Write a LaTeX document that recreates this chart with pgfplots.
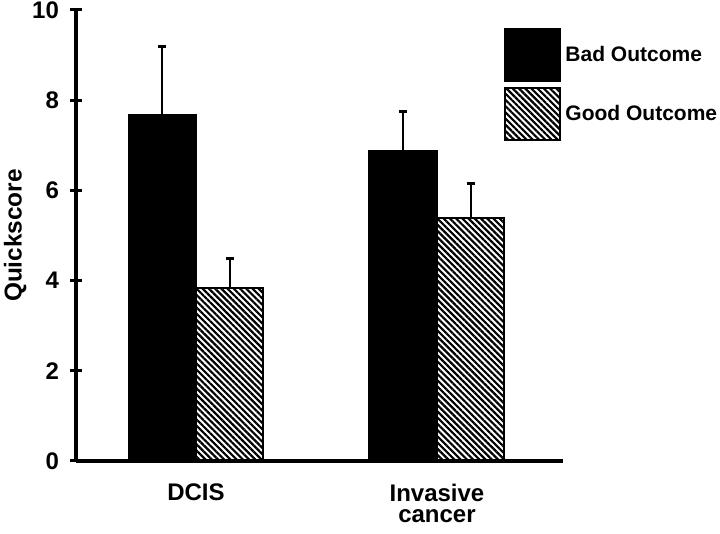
\documentclass[border=0pt]{standalone}
\usepackage{fontspec}
\setmainfont{Liberation Sans}
\usepackage{pgfplots}
\pgfplotsset{compat=1.18}
\usetikzlibrary{patterns.meta}
\begin{document}
\begin{tikzpicture}
\useasboundingbox (-38pt,-36.5pt) rectangle (322pt,230.5pt);
\begin{axis}[
  at={(0pt,0pt)}, anchor=south west,
  scale only axis, width=243.5pt, height=225.5pt,
  xmin=-0.498, xmax=1.523, ymin=0, ymax=10,
  ybar=0pt, bar width=0.28,
  axis x line*=bottom, axis y line*=left,
  axis line style={line width=2pt},
  ytick={0,2,4,6,8,10},
  xtick={0,1}, xticklabels={DCIS,{Invasive\\cancer}},
  xtick style={draw=none},
  major tick length=6pt, tick align=center,
  ytick style={line width=1.5pt, black},
  /pgf/number format/assume math mode=true,
  yticklabel style={font=\bfseries\fontsize{12}{13}\selectfont, xshift=-2pt},
  xticklabel style={font=\bfseries\fontsize{12}{10.5}\selectfont, align=center, anchor=north, yshift=-5pt},
  ylabel={Quickscore},
  ylabel style={font=\bfseries\fontsize{12.2}{13}\selectfont, at={(axis description cs:-0.125,0.5)}, anchor=center},
  legend style={at={(rel axis cs:0.879,0.96)}, anchor=north west, draw=none, fill=none,
    inner sep=0pt, row sep=2.5pt, font=\bfseries\fontsize{10.5}{12}\selectfont,
    legend cell align=left},
  legend image code/.code={\draw[#1,line width=1pt] (0pt,-13pt) rectangle (27.5pt,13pt);},
  error bars/y dir=plus, error bars/y explicit,
  error bars/error bar style={line width=1pt, black, solid},
  error bars/error mark options={line width=1.5pt, mark size=2pt, black, rotate=90},
]
\addplot[fill=black, draw=black, line width=1pt]
  coordinates {(0,7.67) +- (0,1.53) (1,6.87) +- (0,0.87)};
\addlegendentry{Bad Outcome}
\addplot[draw=black, line width=1pt,
  pattern={Lines[angle=-45,distance=2.2pt,line width=1.1pt]}]
  coordinates {(0,3.84) +- (0,0.66) (1,5.39) +- (0,0.77)};
\addlegendentry{Good Outcome}
\end{axis}
\end{tikzpicture}
\end{document}
